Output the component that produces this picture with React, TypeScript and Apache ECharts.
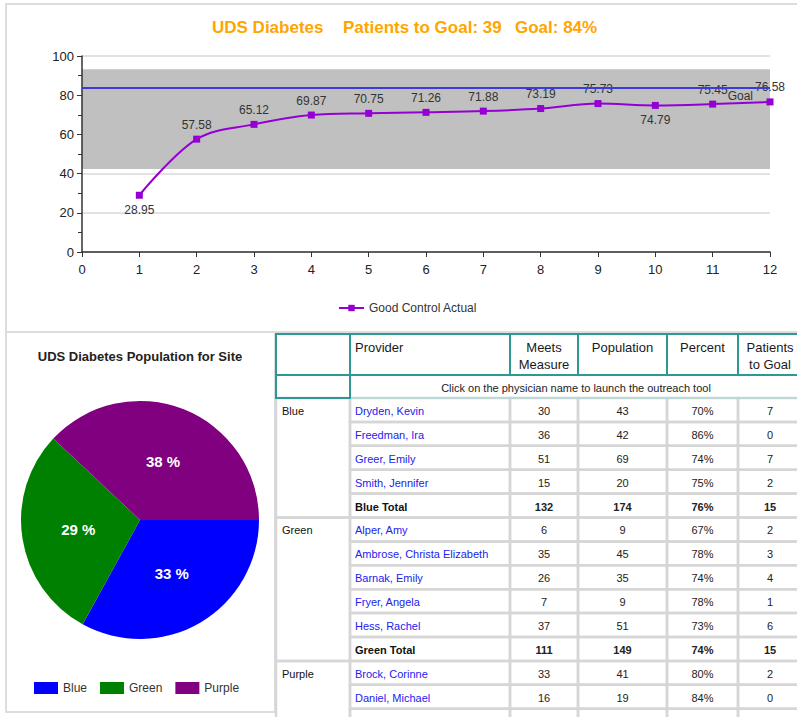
import React, { useEffect, useRef } from "react";
import * as echarts from "echarts";

// ---------- data ----------
const months = [1, 2, 3, 4, 5, 6, 7, 8, 9, 10, 11, 12];
const goodControlActual = [28.95, 57.58, 65.12, 69.87, 70.75, 71.26, 71.88, 73.19, 75.73, 74.79, 75.45, 76.58];
const labelsBelow = [1, 10]; // months whose value label sits under the point
const goalPercent = 84;
const controlBand = [42.3, 93.2];
const chartTitleParts = ["UDS Diabetes", "Patients to Goal: 39", "Goal: 84%"];

const pieTitle = "UDS Diabetes Population for Site";
const sites = ["Blue", "Green", "Purple"];
const sitePercent = [33, 29, 38];
const siteColors = ["#0000FF", "#008000", "#800080"];

const tableHeaders = ["", "Provider", "Meets\nMeasure", "Population", "Percent", "Patients\nto Goal"];
const tableNote = "Click on the physician name to launch the outreach tool";
const tableGroups = ["Blue", "Blue", "Blue", "Blue", "Blue", "Green", "Green", "Green", "Green", "Green", "Green", "Purple", "Purple"];
const tableProviders = [
  "Dryden, Kevin", "Freedman, Ira", "Greer, Emily", "Smith, Jennifer", "Blue Total",
  "Alper, Amy", "Ambrose, Christa Elizabeth", "Barnak, Emily", "Fryer, Angela", "Hess, Rachel", "Green Total",
  "Brock, Corinne", "Daniel, Michael",
];
const tableMeets = [30, 36, 51, 15, 132, 6, 35, 26, 7, 37, 111, 33, 16];
const tablePopulation = [43, 42, 69, 20, 174, 9, 45, 35, 9, 51, 149, 41, 19];
const tablePercent = ["70%", "86%", "74%", "75%", "76%", "67%", "78%", "74%", "78%", "73%", "74%", "80%", "84%"];
const tableToGoal = [7, 0, 7, 2, 15, 2, 3, 4, 1, 6, 15, 2, 0];

// ---------- layout ----------
const FONT = "Liberation Sans, Arial, sans-serif";
const TEAL = "#2b9a94";
const GRAY = "#d6d6d6";
const cols = [276, 350, 510, 578, 667, 738, 806];
const headTop = 334;
const headH = 41;
const noteH = 23;
const rowTop = headTop + headH + noteH;
const rowH = 23.9;
const titleX = [212, 343, 515];

function buildGraphics() {
  const els: any[] = [];
  // panel borders
  els.push({ type: "rect", shape: { x: 6, y: 4, width: 800, height: 328 }, style: { fill: "none", stroke: "#dddddd", lineWidth: 2 } });
  els.push({ type: "rect", shape: { x: 6, y: 332, width: 269, height: 380 }, style: { fill: "none", stroke: "#dddddd", lineWidth: 2 } });
  // titles
  chartTitleParts.forEach((t, i) => {
    els.push({
      type: "text", x: titleX[i], y: 27,
      style: { text: t, fill: "#FFA500", font: `bold 17px ${FONT}`, verticalAlign: "middle", align: "left" },
    });
  });
  els.push({
    type: "text", x: 140, y: 356,
    style: { text: pieTitle, fill: "#222222", font: `bold 13px ${FONT}`, verticalAlign: "middle", align: "center" },
  });

  // data rows
  const nRows = tableProviders.length;
  for (let r = 0; r <= nRows; r++) {
    const y = rowTop + r * rowH;
    for (let c = 1; c < 6; c++) {
      els.push({ type: "rect", shape: { x: cols[c], y, width: cols[c + 1] - cols[c], height: rowH }, style: { fill: "none", stroke: GRAY, lineWidth: 2.5 } });
    }
  }
  // group cells
  let start = 0;
  for (let r = 1; r <= nRows; r++) {
    if (r === nRows || tableGroups[r] !== tableGroups[start]) {
      const y = rowTop + start * rowH;
      const h = r === nRows ? 80 : (r - start) * rowH;
      els.push({ type: "rect", shape: { x: cols[0], y, width: cols[1] - cols[0], height: h }, style: { fill: "none", stroke: GRAY, lineWidth: 2.5 } });
      els.push({ type: "text", x: cols[0] + 6, y: y + rowH / 2 + 1, style: { text: tableGroups[start], fill: "#111", font: `11px ${FONT}`, verticalAlign: "middle" } });
      start = r;
    }
  }
  // header cells
  for (let c = 0; c < 6; c++) {
    els.push({ type: "rect", shape: { x: cols[c], y: headTop, width: cols[c + 1] - cols[c], height: headH }, style: { fill: "none", stroke: TEAL, lineWidth: 2 } });
    const center = (cols[c] + cols[c + 1]) / 2;
    const isLeft = c === 1;
    els.push({
      type: "text", x: isLeft ? cols[c] + 5 : (c === 5 ? center - 2 : center), y: headTop + 5,
      style: { text: tableHeaders[c], fill: "#1a1a1a", font: `13px ${FONT}`, align: isLeft ? "left" : "center", verticalAlign: "top", lineHeight: 17 },
    });
  }
  // note row
  els.push({ type: "line", shape: { x1: cols[1], y1: rowTop, x2: cols[6], y2: rowTop }, style: { stroke: "#bcd9d7", lineWidth: 2 } });
  els.push({ type: "rect", shape: { x: cols[0], y: headTop + headH, width: cols[1] - cols[0], height: noteH }, style: { fill: "none", stroke: TEAL, lineWidth: 2 } });
  els.push({
    type: "text", x: (cols[1] + cols[6]) / 2 - 2, y: headTop + headH + noteH / 2 + 1,
    style: { text: tableNote, fill: "#222", font: `11px ${FONT}`, align: "center", verticalAlign: "middle" },
  });

  // cell texts
  for (let r = 0; r < nRows; r++) {
    const cy = rowTop + r * rowH + rowH / 2 + 1;
    const total = tableProviders[r].endsWith(" Total");
    const font = total ? `bold 11px ${FONT}` : `11px ${FONT}`;
    els.push({ type: "text", x: cols[1] + 5, y: cy, style: { text: tableProviders[r], fill: total ? "#111" : "#2222ee", font, verticalAlign: "middle" } });
    const vals = [tableMeets[r], tablePopulation[r], tablePercent[r], tableToGoal[r]];
    vals.forEach((v, i) => {
      const c = i + 2;
      const cx = c === 5 ? 770 : (cols[c] + cols[c + 1]) / 2;
      els.push({ type: "text", x: cx, y: cy, style: { text: String(v), fill: "#222", font, align: "center", verticalAlign: "middle" } });
    });
  }
  return els;
}

export default function App() {
  const ref = useRef<HTMLDivElement>(null);
  useEffect(() => {
    if (!ref.current) return;
    const chart = echarts.init(ref.current, undefined, { renderer: "svg" });
    const option: any = {
      animation: false,
      backgroundColor: "#ffffff",
      textStyle: { fontFamily: FONT },
      grid: { left: 82, right: 27, top: 56, bottom: 465, containLabel: false },
      xAxis: {
        type: "value", min: 0, max: 12, interval: 1, z: 1,
        axisLine: { show: true, lineStyle: { color: "#333", width: 1.5 } },
        axisTick: { show: true, length: 5, lineStyle: { color: "#333" } },
        axisLabel: { fontSize: 13, color: "#222", margin: 11 },
        splitLine: { show: false },
      },
      yAxis: {
        type: "value", min: 0, max: 100, interval: 20, z: 1,
        axisLine: { show: true, lineStyle: { color: "#333", width: 1.5 } },
        axisTick: { show: true, length: 5, lineStyle: { color: "#333" } },
        minorTick: { show: true, splitNumber: 2, length: 4, lineStyle: { color: "#333" } },
        axisLabel: { fontSize: 13, color: "#222", margin: 8 },
        splitLine: { show: true, lineStyle: { color: "#e2e2e2", width: 2 } },
      },
      legend: [
        {
          data: ["Good Control Actual"], left: 333, top: 297, itemWidth: 25, itemHeight: 8,
          textStyle: { fontSize: 12, color: "#333" },
        },
        {
          data: sites, left: 29, top: 677, itemWidth: 24, itemHeight: 12, itemGap: 13, icon: "rect",
          textStyle: { fontSize: 12, color: "#333" },
        },
      ],
      series: [
        {
          name: "band", type: "line", data: [], z: 0, silent: true,
          markArea: { silent: true, itemStyle: { color: "#c0c0c0" }, data: [[{ yAxis: controlBand[0] }, { yAxis: controlBand[1] }]] },
        },
        {
          name: "Good Control Actual", type: "line", z: 3, smooth: 0.35,
          symbol: "rect", symbolSize: 7,
          lineStyle: { color: "#9400D3", width: 2 },
          itemStyle: { color: "#9400D3" },
          label: { show: true, fontSize: 12, color: "#333", distance: 5 },
          data: goodControlActual.map((v, i) => ({
            value: [months[i], v],
            label: { position: labelsBelow.includes(months[i]) ? "bottom" : "top" },
          })),
          markLine: {
            silent: true, symbol: "none",
            lineStyle: { color: "#3b3bdb", width: 2, type: "solid" },
            label: { show: true, formatter: "Goal", position: "insideEndBottom", fontSize: 12, color: "#333", distance: 3, padding: [0, 14, 0, 0] },
            data: [{ yAxis: goalPercent }],
          },
        },
        {
          name: "Site Population", type: "pie", center: [140, 520], radius: 119,
          startAngle: 0, clockwise: true,
          label: { show: true, position: "inner", formatter: "{c} %", color: "#fff", fontSize: 15, fontWeight: "bold" },
          labelLine: { show: false },
          itemStyle: { borderWidth: 0 },
          emphasis: { disabled: true },
          data: sites.map((s, i) => ({ name: s, value: sitePercent[i], itemStyle: { color: siteColors[i] } })),
        },
      ],
      graphic: buildGraphics(),
    };
    chart.setOption(option);
    return () => chart.dispose();
  }, []);
  return <div ref={ref} style={{ position: "fixed", left: 0, top: 0, width: 797, height: 717, background: "#fff" }} />;
}
